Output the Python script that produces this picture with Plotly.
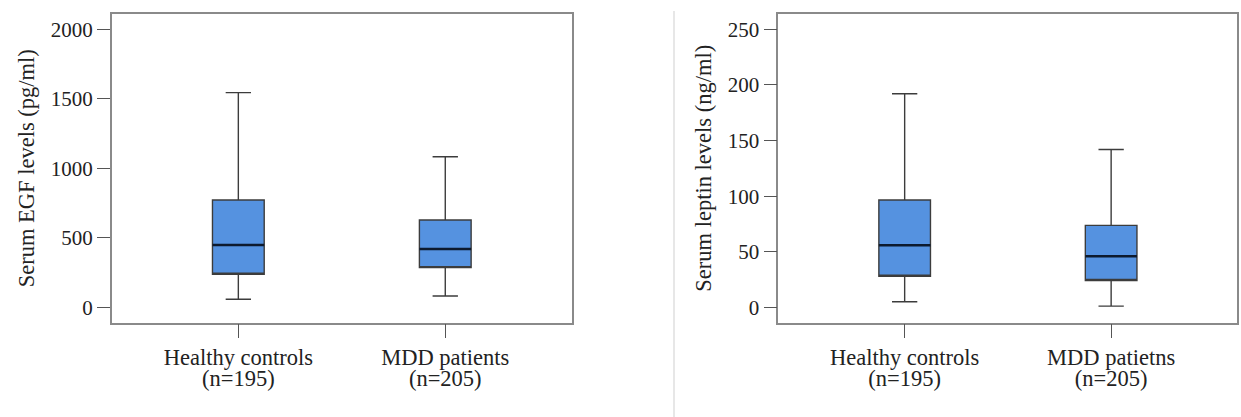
import plotly.graph_objects as go

groups_left = ["Healthy controls", "MDD patients"]
groups_right = ["Healthy controls", "MDD patietns"]
n_counts = [195, 205]

egf_lower = [57, 81]
egf_q1 = [237, 285]
egf_median = [448, 419]
egf_q3 = [772, 628]
egf_upper = [1544, 1083]

lep_lower = [5.1, 1.2]
lep_q1 = [28.1, 24.2]
lep_median = [55.9, 46.0]
lep_q3 = [96.6, 73.8]
lep_upper = [192, 142]

FONT = "Liberation Serif"
FILL = "#5592e0"
EDGE = "#3c3c3c"
MED = "#0d1a2e"
BW = 0.25

fig = go.Figure()

def add_panel(cats, lo, q1, med, q3, up, xa, ya, xn):
    fig.add_trace(go.Box(
        x=cats, q1=q1, median=q1, q3=q3, lowerfence=lo, upperfence=up,
        fillcolor=FILL, line=dict(color=EDGE, width=1.4), width=BW,
        whiskerwidth=0.49, boxpoints=False, hoverinfo="skip",
        xaxis=xa, yaxis=ya, showlegend=False))
    fig.add_trace(go.Box(
        x=cats, q1=med, median=med, q3=med, lowerfence=med, upperfence=med,
        fillcolor="rgba(0,0,0,0)", line=dict(color=MED, width=2.4), width=BW,
        whiskerwidth=0, boxpoints=False, hoverinfo="skip",
        xaxis=xa, yaxis=ya, showlegend=False))
    # invisible carrier trace for the "(n=...)" label axis
    fig.add_trace(go.Scatter(
        x=list(range(len(cats))), y=med, mode="markers", marker=dict(opacity=0),
        hoverinfo="skip", xaxis=xn, yaxis=ya, showlegend=False))

add_panel(groups_left, egf_lower, egf_q1, egf_median, egf_q3, egf_upper, "x", "y", "x3")
add_panel(groups_right, lep_lower, lep_q1, lep_median, lep_q3, lep_upper, "x2", "y2", "x4")

W, H = 1241, 417
ydom = [1 - 322.5 / H, 1 - 14 / H]
xdom1 = [111.7 / W, 571.7 / W]
xdom2 = [778.3 / W, 1237.3 / W]
XR = [-0.612, 1.611]

tick_font = dict(family=FONT, size=21, color="#222")
label_font = dict(family=FONT, size=22.5, color="#222")
axis_common = dict(showline=True, mirror=True, linecolor="#8a8a8a", linewidth=1.5,
                   showgrid=False, zeroline=False, ticks="outside", tickcolor="#555",
                   tickwidth=1.2)
n_axis = dict(showline=False, showgrid=False, zeroline=False, ticks="outside", ticklen=14,
              tickcolor="rgba(0,0,0,0)", tickfont=label_font, range=XR, tickmode="array",
              tickvals=list(range(len(n_counts))), ticktext=[f"(n={n})" for n in n_counts],
              ticklabelstandoff=21, fixedrange=True)

fig.update_layout(
    width=W, height=H, autosize=False,
    margin=dict(l=0, r=0, t=0, b=0),
    paper_bgcolor="white", plot_bgcolor="white",
    xaxis=dict(domain=xdom1, anchor="y", type="category", range=XR, ticklen=14,
               tickfont=label_font, **axis_common),
    yaxis=dict(domain=ydom, anchor="x", range=[-110, 2110], tickvals=[0, 500, 1000, 1500, 2000],
               ticklen=13, tickfont=tick_font,
               title=dict(text="Serum EGF levels (pg/ml)", font=label_font, standoff=10),
               **axis_common),
    xaxis2=dict(domain=xdom2, anchor="y2", type="category", range=XR, ticklen=14,
                tickfont=label_font, **axis_common),
    yaxis2=dict(domain=ydom, anchor="x2", range=[-13.5, 263.7], tickvals=[0, 50, 100, 150, 200, 250],
                ticklen=13, tickfont=tick_font,
                title=dict(text="Serum leptin levels (ng/ml)", font=label_font, standoff=10),
                **axis_common),
    xaxis3=dict(domain=xdom1, anchor="y", overlaying="x", side="bottom", **n_axis),
    xaxis4=dict(domain=xdom2, anchor="y2", overlaying="x2", side="bottom", **n_axis),
    shapes=[dict(type="line", xref="paper", yref="paper", x0=674 / W, x1=674 / W,
                 y0=0, y1=1 - 11 / H, line=dict(color="#cfcfcf", width=1))],
)

fig.write_html("out.html", config={"displayModeBar": False},
               post_script="document.body.style.margin='0';document.body.style.overflow='hidden';")
